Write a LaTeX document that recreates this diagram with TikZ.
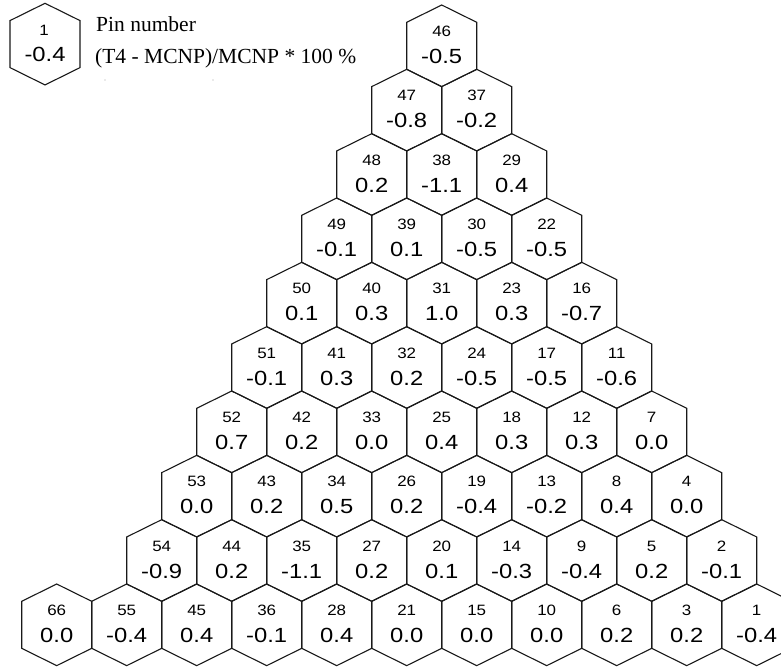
\documentclass[tikz,border=0pt]{standalone}
\usepackage{fontspec}
\setmainfont{Liberation Serif}
\newfontfamily\hexfont{Liberation Sans}
\tikzset{
  hexline/.style={draw=black!90, line width=1.1pt, line join=miter},
  pinlbl/.style={inner sep=0pt, font=\hexfont\fontsize{15}{15}\selectfont},
  vallbl/.style={inner sep=0pt, font=\hexfont\fontsize{20.5}{20.5}\selectfont},
  legtxt/.style={inner sep=0pt, anchor=base west, font=\fontsize{21.5}{21.5}\selectfont},
}
\newcommand{\hexpin}[4]{%
  \draw[hexline] (#1,#2) -- ++(35,17.3) -- ++(0,47.03) -- ++(-35,17.3) -- ++(-35,-17.3) -- ++(0,-47.03) -- cycle;
  \node[pinlbl] (p#3) at (#1,#2+26.5) {\scalebox{1.13}[1]{#3}};
  \node[vallbl] (v#3) at (#1,#2+51.5) {\scalebox{1.16}[1]{#4}};
}
\begin{document}
\begin{tikzpicture}[x=1pt,y=-1pt]
\useasboundingbox (0,0) rectangle (781,666);
\clip (0,0) rectangle (781,666);
% legend
\draw[hexline] (45,3.3) -- ++(35,17.3) -- ++(0,47.03) -- ++(-35,17.3) -- ++(-35,-17.3) -- ++(0,-47.03) -- cycle;
\node[pinlbl] (legpin) at (44,30.5) {\scalebox{1.13}[1]{1}};
\node[vallbl] (legval) at (45,54.5) {\scalebox{1.16}[1]{-0.4}};
\node[legtxt] (legA) at (96,31.7) {Pin number};
\node[legtxt] (legB) at (95,63.3) {(T4 - MCNP)/MCNP * 100 \%};
\fill[black!35] (105,80) circle (0.7);
\fill[black!35] (213,80) circle (0.7);
% rows
\foreach \p/\v [count=\k from 0] in {46/-0.5}
  {\hexpin{441.7+70*\k}{5}{\p}{\v}}
\foreach \p/\v [count=\k from 0] in {47/-0.8,37/-0.2}
  {\hexpin{406.7+70*\k}{69.33}{\p}{\v}}
\foreach \p/\v [count=\k from 0] in {48/0.2,38/-1.1,29/0.4}
  {\hexpin{371.7+70*\k}{133.67}{\p}{\v}}
\foreach \p/\v [count=\k from 0] in {49/-0.1,39/0.1,30/-0.5,22/-0.5}
  {\hexpin{336.7+70*\k}{198}{\p}{\v}}
\foreach \p/\v [count=\k from 0] in {50/0.1,40/0.3,31/1.0,23/0.3,16/-0.7}
  {\hexpin{301.7+70*\k}{262.33}{\p}{\v}}
\foreach \p/\v [count=\k from 0] in {51/-0.1,41/0.3,32/0.2,24/-0.5,17/-0.5,11/-0.6}
  {\hexpin{266.7+70*\k}{326.67}{\p}{\v}}
\foreach \p/\v [count=\k from 0] in {52/0.7,42/0.2,33/0.0,25/0.4,18/0.3,12/0.3,7/0.0}
  {\hexpin{231.7+70*\k}{391}{\p}{\v}}
\foreach \p/\v [count=\k from 0] in {53/0.0,43/0.2,34/0.5,26/0.2,19/-0.4,13/-0.2,8/0.4,4/0.0}
  {\hexpin{196.7+70*\k}{455.33}{\p}{\v}}
\foreach \p/\v [count=\k from 0] in {54/-0.9,44/0.2,35/-1.1,27/0.2,20/0.1,14/-0.3,9/-0.4,5/0.2,2/-0.1}
  {\hexpin{161.7+70*\k}{519.67}{\p}{\v}}
\foreach \p/\v [count=\k from 0] in {66/0.0,55/-0.4,45/0.4,36/-0.1,28/0.4,21/0.0,15/0.0,10/0.0,6/0.2,3/0.2,1/-0.4}
  {\hexpin{56.7+70*\k}{584}{\p}{\v}}
\end{tikzpicture}
\end{document}
